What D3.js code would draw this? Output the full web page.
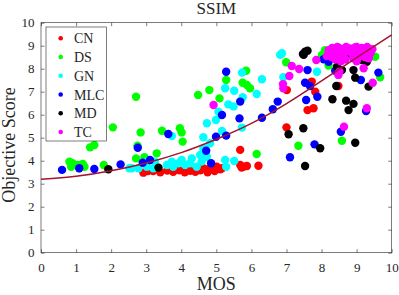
<!DOCTYPE html>
<html>
<head>
<meta charset="utf-8">
<script src="https://cdn.jsdelivr.net/npm/d3@7"></script>
<style>
  body { margin: 0; background: #fff; }
  text { font-family: "Liberation Serif", "Times New Roman", serif; fill: #262626; }
</style>
</head>
<body>
<svg id="chart"></svg>
<script>
// category names and colours (MATLAB r g c b k m)
const categories = ["CN", "DS", "GN", "MLC", "MD", "TC"];
const colors = ["#ff0000", "#00ff00", "#00ffff", "#0000ff", "#000000", "#ff00ff"];

// [MOS, objective score]
const cn = [[2.92,3.48],[3.05,3.55],[3.2,3.55],[3.4,3.5],[3.6,3.57],[3.77,3.52],[3.95,3.58],[4.1,3.5],
  [4.25,3.56],[4.4,3.52],[4.54,3.58],[4.63,3.67],[4.75,3.5],[4.82,3.67],[4.95,3.55],[5.01,3.74],
  [5.11,3.63],[5.16,3.67],[5.68,3.81],[5.72,3.7],[5.77,3.74],[5.87,3.77],[6.2,3.78],[5.68,4.47],
  [7.0,5.45],[7.6,6.2],[7.77,6.28],[7.72,7.44],[7.82,7.0],[8.48,7.25],[7.01,7.07]];
const ds = [[2.71,6.78],[4.48,6.86],[4.8,7.07],[5.09,6.71],[2.05,5.45],[2.84,5.23],[3.45,5.3],
  [3.96,5.41],[4.01,5.23],[4.04,4.83],[1.4,4.58],[1.52,4.68],[2.75,4.65],[0.81,3.96],[0.9,3.89],
  [0.86,3.74],[1.05,3.81],[1.19,3.86],[1.24,3.74],[1.09,3.67],[1.79,3.81],[2.71,4.1],[2.95,4.15],
  [3.3,4.32],[6.15,4.29],[7.34,4.65],[8.58,4.87],[6.99,8.28],[5.85,7.91],[5.28,7.51],[5.75,7.39],
  [5.87,7.29],[5.96,7.15],[8.01,8.6],[8.2,8.14],[9.67,7.63],[9.53,8.52],[8.1,8.8],[9.4,8.8]];
const gn = [[2.52,3.67],[2.59,3.67],[2.78,3.67],[3.02,3.74],[3.2,3.67],[3.02,3.96],[3.25,3.96],
  [3.59,3.81],[3.73,3.96],[3.77,3.74],[3.92,3.89],[4.01,4.03],[4.11,3.81],[4.3,4.1],[4.25,3.89],
  [4.44,3.74],[4.54,4.25],[4.58,3.96],[4.73,4.17],[4.63,4.54],[4.82,4.76],[5.25,4.03],[5.51,3.99],
  [5.28,3.74],[3.73,5.07],[4.63,5.02],[5.16,5.29],[5.73,5.44],[4.73,5.63],[4.99,5.77],[5.06,6.13],
  [5.34,6.45],[5.49,6.36],[5.25,7.15],[5.51,7.04],[5.73,7.83],[5.75,6.76],[6.15,6.9],[6.3,7.54],
  [6.82,8.6],[6.87,8.67],[6.91,7.63],[7.87,7.87]];
const mlc = [[0.6,3.6],[1.09,3.67],[1.52,3.64],[2.27,3.84],[2.76,4.56],[2.9,3.91],[3.11,4.03],
  [3.63,5.16],[4.71,4.43],[4.85,3.89],[4.99,5.04],[5.16,5.99],[5.28,5.09],[5.66,5.84],[6.3,5.87],
  [6.61,6.24],[5.28,7.87],[5.68,6.57],[6.75,6.57],[7.56,6.64],[7.6,7.94],[7.53,7.39],[7.67,7.25],
  [7.88,6.78],[7.1,4.15],[8.55,5.26],[7.8,4.71],[8.06,8.41],[8.39,7.91],[9.12,7.51],[9.62,7.83],
  [9.27,6.16],[8.2,8.3]];
const md = [[1.92,3.63],[3.35,3.7],[7.53,8.74],[7.47,8.64],[7.6,8.78],[7.49,8.6],[7.06,5.15],
  [7.48,5.41],[7.53,3.77],[7.96,4.54],[8.96,4.78],[8.31,6.67],[8.7,6.61],[8.77,6.2],[8.91,6.47],
  [8.42,7.25],[8.58,7.94],[8.91,7.94],[8.96,7.61],[9.34,7.22],[8.77,8.6],[9.15,8.38],[9.29,8.3],
  [8.44,8.09]];
const tc = [[4.92,6.42],[7.15,8.12],[7.36,7.99],[7.08,7.68],[6.9,7.33],[6.91,7.15],[7.85,8.38],
  [8.51,7.87],[9.2,8.02],[9.46,7.39],[9.29,6.28],[8.64,5.48],[8.48,7.73],
  [8.2,8.8],[8.3,8.9],[8.35,8.7],[8.4,8.85],[8.45,8.55],[8.5,8.9],[8.55,8.72],[8.6,8.85],
  [8.62,8.5],[8.7,8.95],[8.8,8.88],[8.9,8.8],[8.95,8.92],[9.0,8.7],[9.05,8.85],[9.1,8.55],
  [9.15,8.9],[9.2,8.75],[9.25,8.85],[9.3,8.6],[9.35,8.8],[9.4,8.68],[9.45,8.85],[8.3,8.5],
  [8.4,8.4],[8.55,8.32],[8.68,8.4],[8.9,8.45],[9.0,8.32],[9.35,8.45],[8.25,8.65],[8.65,8.68],
  [9.1,8.75],[8.45,8.95],[9.0,8.95],[9.3,8.95],[8.15,8.55],[8.85,8.7],[9.05,8.5],[9.25,8.5]];
const series = [cn, ds, gn, mlc, md, tc];

// fitted curve, sampled at integer MOS
const fitMos = [0, 1, 2, 3, 4, 5, 6, 7, 8, 9, 10];
const fitScore = [3.19, 3.32, 3.56, 3.9, 4.35, 4.93, 5.62, 6.48, 7.47, 8.48, 9.47];

const ticks = [0, 1, 2, 3, 4, 5, 6, 7, 8, 9, 10];

const width = 399, height = 295;
const mLeft = 41, mRight = 391.7, mTop = 22.7, mBottom = 252.7;

const svg = d3.select("#chart").attr("width", width).attr("height", height);

const x = d3.scaleLinear().domain([0, 10]).range([mLeft, mRight]);
const y = d3.scaleLinear().domain([0, 10]).range([mBottom, mTop]);

// axes, ticks inside, box on
svg.append("g")
  .attr("transform", "translate(0," + mBottom + ")")
  .call(d3.axisBottom(x).tickValues(ticks).tickSizeInner(-3.5).tickSizeOuter(0).tickPadding(10));
svg.append("g")
  .attr("transform", "translate(" + mLeft + ",0)")
  .call(d3.axisLeft(y).tickValues(ticks).tickSizeInner(-3.5).tickSizeOuter(0).tickPadding(6.5));
svg.append("g")
  .attr("transform", "translate(0," + mTop + ")")
  .call(d3.axisTop(x).tickValues(ticks).tickSizeInner(-3.5).tickSizeOuter(0).tickFormat(""));
svg.append("g")
  .attr("transform", "translate(" + mRight + ",0)")
  .call(d3.axisRight(y).tickValues(ticks).tickSizeInner(-3.5).tickSizeOuter(0).tickFormat(""));

svg.selectAll(".tick text").style("font-size", "13px").style("font-family", "Liberation Serif").attr("fill", "#262626");
svg.selectAll(".tick line").attr("stroke", "#262626").attr("stroke-width", 0.6);
svg.selectAll(".domain").remove();

svg.append("rect")
  .attr("x", mLeft).attr("y", mTop)
  .attr("width", mRight - mLeft).attr("height", mBottom - mTop)
  .attr("fill", "none").attr("stroke", "#262626").attr("stroke-width", 0.6);

// points
series.forEach((pts, i) => {
  svg.append("g").selectAll("circle")
    .data(pts)
    .enter().append("circle")
    .attr("cx", d => x(d[0]))
    .attr("cy", d => y(d[1]))
    .attr("r", 4.2)
    .attr("fill", colors[i]);
});

// fitted curve
const line = d3.line()
  .x(d => x(d[0]))
  .y(d => y(d[1]))
  .curve(d3.curveNatural);

svg.append("path")
  .datum(fitMos.map((m, i) => [m, fitScore[i]]))
  .attr("d", line)
  .attr("fill", "none")
  .attr("stroke", "#a2142f")
  .attr("stroke-width", 1.5);

// labels
svg.append("text")
  .attr("x", (mLeft + mRight) / 2).attr("y", 14)
  .style("text-anchor", "middle").style("font-size", "17px")
  .text("SSIM");

svg.append("text")
  .attr("x", (mLeft + mRight) / 2).attr("y", 290)
  .style("text-anchor", "middle").style("font-size", "18px")
  .text("MOS");

svg.append("text")
  .attr("transform", "translate(15,145) rotate(-90)")
  .style("text-anchor", "middle").style("font-size", "18px")
  .text("Objective Score");

// legend
const legend = svg.append("g");
legend.append("rect")
  .attr("x", 46).attr("y", 27).attr("width", 60.5).attr("height", 114)
  .attr("fill", "#fff").attr("stroke", "#262626").attr("stroke-width", 0.6);

categories.forEach((c, i) => {
  const cy = 38.3 + i * 18.75;
  legend.append("circle")
    .attr("cx", 60.7).attr("cy", cy).attr("r", 2.3)
    .attr("fill", colors[i]);
  legend.append("text")
    .attr("x", 74).attr("y", cy + 5)
    .style("font-size", "14px")
    .text(c);
});
</script>
</body>
</html>
